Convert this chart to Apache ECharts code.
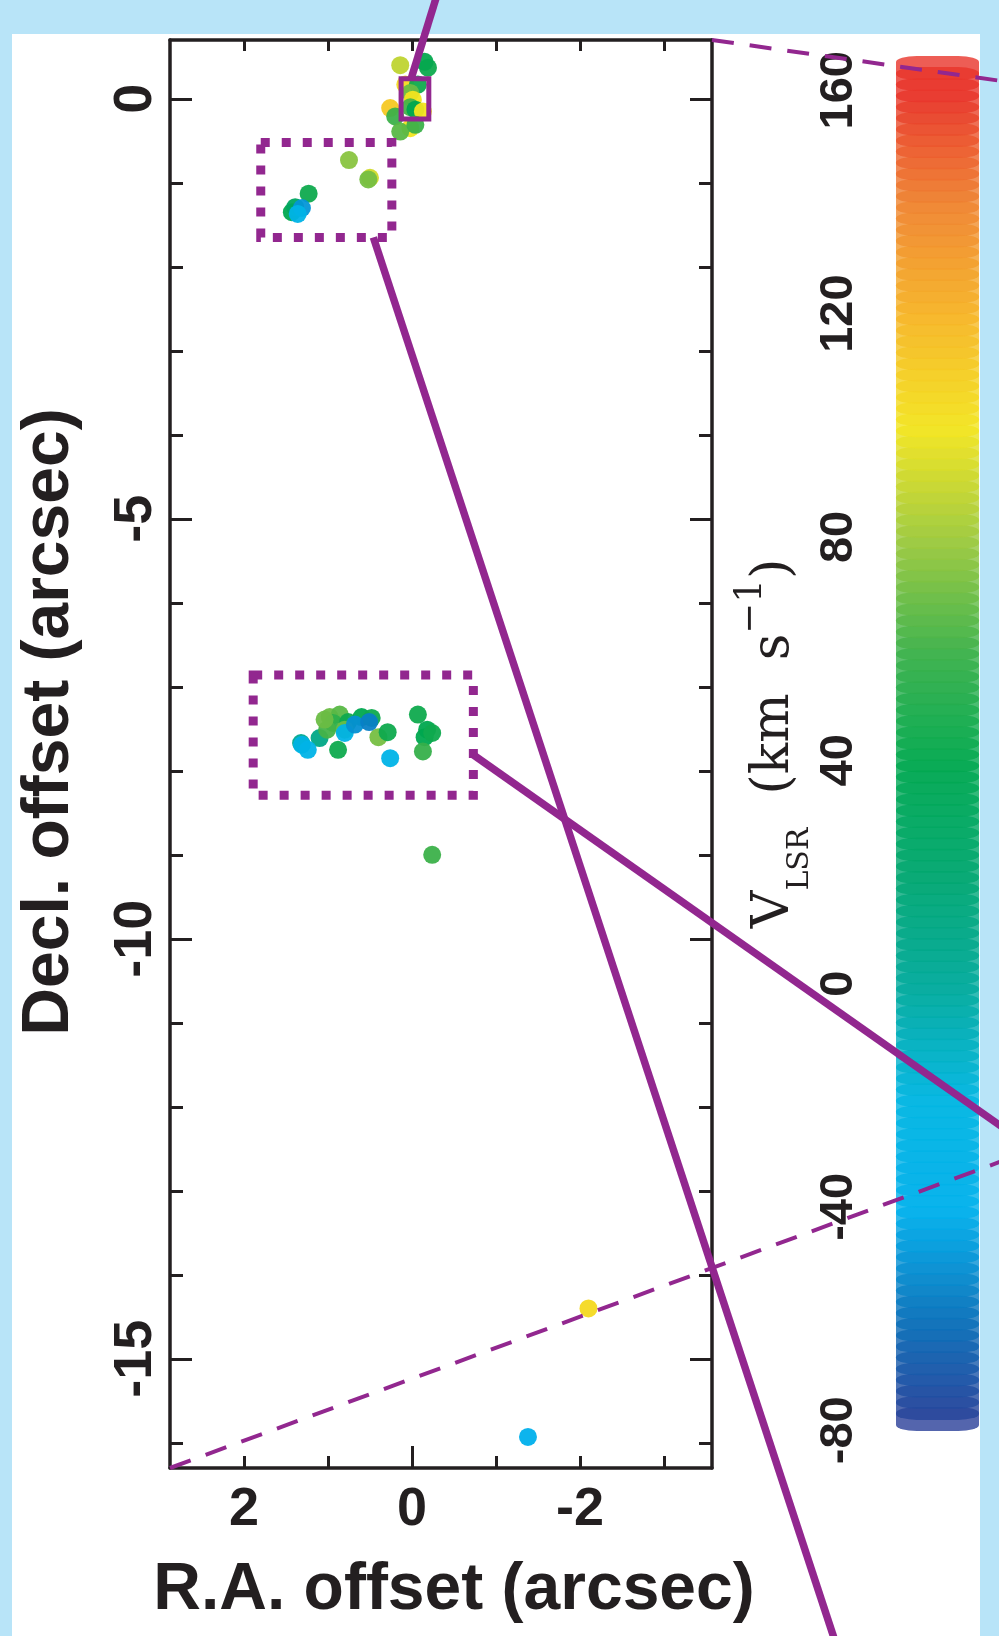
<!DOCTYPE html>
<html>
<head>
<meta charset="utf-8">
<script src="https://cdn.jsdelivr.net/npm/echarts@6/dist/echarts.min.js"></script>
<style>
  html, body { margin: 0; padding: 0; background: #b8e4f8; }
  #panel { position: absolute; left: 12px; top: 34px; width: 968px; height: 1602px; background: #ffffff; }
  #chart { position: absolute; left: 0; top: 0; width: 999px; height: 1636px; }
</style>
</head>
<body>
<div id="panel"></div>
<div id="chart"></div>
<script>
// Maser spots: R.A. offset (arcsec), Decl. offset (arcsec), V_LSR (km/s)
const raOffset = [
  0.14, -0.19, -0.15, 0.08, -0.07, 0.02, -0.01, 0.02, -0.04, -0.13, 0.26, 0.20, 0.02, 0.14, -0.04,
  0.75, 0.50, 0.52, 1.23, 1.43, 1.39, 1.31, 1.36,
  1.10, 0.88, 0.98, 0.86, 0.94, 1.01, 1.04, 0.76, 0.80, 0.60, 0.48, 0.40, 0.29,
  -0.07, -0.18, -0.15, -0.24, -0.13,
  1.32, 1.31, 1.24, 0.80, 0.68, 0.51, 0.26,
  -0.24, -2.10, -1.38
];
const declOffset = [
  0.40, 0.37, 0.44, 0.17, 0.17, 0.07, -0.01, -0.10, -0.13, -0.15, -0.11, -0.21, -0.35, -0.39, -0.31,
  -0.73, -0.94, -0.96, -1.13, -1.35, -1.29, -1.30, -1.37,
  -7.61, -7.75, -7.36, -7.33, -7.43, -7.51, -7.39, -7.42, -7.51, -7.36, -7.37, -7.60, -7.54,
  -7.33, -7.51, -7.60, -7.55, -7.77,
  -7.67, -7.69, -7.75, -7.55, -7.45, -7.42, -7.85,
  -9.00, -14.40, -15.93
];
const vlsr = [
  88, 45, 42, 105, 45, 70, 100, 62, 40, 100, 112, 60, 100, 66, 60,
  76, 92, 72, 45, 40, 30, -48, -30,
  10, 45, 70, 66, 55, 62, 70, 45, 70, 40, 45, 72, 45,
  45, 40, 40, 45, 58,
  5, -25, -30, -30, -50, -55, -30,
  60, 105, -40
];

// Axis ranges and ticks
const raRange = [-3.57, 2.88];
const declRange = [-16.3, 0.7];
const raTicks = [2, 1, 0, -1, -2, -3];
const raLabels = [2, 0, -2];
const raLongTicks = [0];
const declTicks = [0, -1, -2, -3, -4, -5, -6, -7, -8, -9, -10, -11, -12, -13, -14, -15, -16];
const declLabels = [0, -5, -10, -15];
const velLabels = [-80, -40, 0, 40, 80, 120, 160];
const velRange = [-80, 160];
const colorbarRange = [-80.5, 166.5];
const colorbarSteps = { from: -78, to: 164, step: 2 };

// Outlined regions (R.A. left, Decl. top, R.A. right, Decl. bottom)
const regionWest = [1.80, -0.52, 0.24, -1.65];
const regionSouth = [1.89, -6.86, -0.73, -8.29];
const regionCore = [0.13, 0.24, -0.20, -0.24];

// Rainbow colour scale, evenly spaced over velRange
const rainbow = ['#2c3a94', '#0a6fb9', '#00b0ec', '#00b5e2', '#00aa9c', '#00a670', '#00a84f',
                 '#3cb14a', '#9cc93d', '#f3e51f', '#f6b526', '#ef8530', '#e8342a'];

const FONT = '"Liberation Sans", Arial, Helvetica, sans-serif';
const NARROW = '"Liberation Sans Narrow", "Arial Narrow", "Liberation Sans", sans-serif';
const SERIF = '"DejaVu Serif", "Liberation Serif", serif';
const INK = '#231f20';
const PURPLE = '#92278f';

const spots = raOffset.map((x, i) => [x, declOffset[i], vlsr[i]]);
const barCells = [];
for (let v = colorbarSteps.from; v <= colorbarSteps.to; v += colorbarSteps.step) barCells.push([0.5, v, v]);

const chart = echarts.init(document.getElementById('chart'), null, { renderer: 'canvas' });

const tickFont = { fontSize: 54, fontWeight: 'bold', fontFamily: NARROW, color: INK };
const barFont = { fontSize: 47, fontWeight: 'bold', fontFamily: NARROW, color: INK };
const titleFont = { fontSize: 66, fontWeight: 'bold', fontFamily: FONT, color: INK };
const lineStyle = { color: INK, width: 3.5 };

function raAxis(extra) {
  return Object.assign({
    type: 'value', gridIndex: 0, min: raRange[0], max: raRange[1], inverse: true,
    splitLine: { show: false }, axisLine: { show: false, onZero: false },
    axisTick: { show: false }, axisLabel: { show: false }
  }, extra);
}
function declAxis(extra) {
  return Object.assign({
    type: 'value', gridIndex: 0, min: declRange[0], max: declRange[1],
    splitLine: { show: false }, axisLine: { show: false, onZero: false },
    axisTick: { show: false }, axisLabel: { show: false }
  }, extra);
}
function ticks(len, values) {
  return { show: true, inside: true, length: len, customValues: values, lineStyle: { color: INK, width: 3 } };
}

function boxArea(r, style) {
  return [{ xAxis: r[0], yAxis: r[1], itemStyle: style }, { xAxis: r[2], yAxis: r[3] }];
}
const dotted = { color: 'rgba(0,0,0,0)', borderColor: PURPLE, borderWidth: 9, borderType: [9, 12] };
const solid = { color: 'rgba(0,0,0,0)', borderColor: PURPLE, borderWidth: 5, borderType: 'solid' };

chart.setOption({
  animation: false,
  grid: [
    { left: 170, top: 40, width: 542, height: 1428 },
    { left: 896, top: 54, width: 83, height: 1379 }
  ],
  visualMap: {
    type: 'continuous', show: false, min: velRange[0], max: velRange[1],
    dimension: 2, seriesIndex: [0, 2], inRange: { color: rainbow }
  },
  xAxis: [
    raAxis({
      position: 'bottom',
      axisLine: { show: true, onZero: false, lineStyle: lineStyle },
      axisTick: ticks(12, raTicks),
      axisLabel: Object.assign({ show: true, customValues: raLabels, margin: 15 }, tickFont),
      name: 'R.A. offset (arcsec)', nameLocation: 'middle', nameGap: 90,
      nameTextStyle: Object.assign({ padding: [0, 0, 0, 26] }, titleFont)
    }),
    raAxis({ position: 'bottom', axisTick: ticks(22, raLongTicks) }),
    raAxis({
      position: 'top',
      axisLine: { show: true, onZero: false, lineStyle: lineStyle },
      axisTick: ticks(11, raTicks)
    }),
    { type: 'value', gridIndex: 1, min: 0, max: 1, show: false }
  ],
  yAxis: [
    declAxis({
      position: 'left',
      axisLine: { show: true, onZero: false, lineStyle: lineStyle },
      axisTick: ticks(22, declLabels),
      axisLabel: Object.assign({ show: true, customValues: declLabels, rotate: 90, margin: 7 }, tickFont),
      name: 'Decl. offset (arcsec)', nameLocation: 'middle', nameRotate: 90, nameGap: 87,
      nameTextStyle: Object.assign({ padding: [0, 0, 0, 64] }, titleFont)
    }),
    declAxis({ position: 'left', axisTick: ticks(13, declTicks) }),
    declAxis({
      position: 'right',
      axisLine: { show: true, onZero: false, lineStyle: lineStyle },
      axisTick: ticks(22, declLabels)
    }),
    declAxis({ position: 'right', axisTick: ticks(13, declTicks) }),
    {
      type: 'value', gridIndex: 1, position: 'left',
      min: colorbarRange[0], max: colorbarRange[1],
      splitLine: { show: false }, axisLine: { show: false, onZero: false }, axisTick: { show: false },
      axisLabel: Object.assign({ show: true, customValues: velLabels, rotate: 90, margin: 33 }, barFont),
      name: '{v|V}{sub|LSR}{v|  (km  s}{sup|−1}{v|)}',
      nameLocation: 'middle', nameRotate: 90, nameGap: 80,
      nameTextStyle: {
        color: INK,
        rich: {
          v: { fontSize: 52, fontFamily: SERIF, color: INK, lineHeight: 82, verticalAlign: 'middle' },
          sub: { fontSize: 30, fontFamily: SERIF, color: INK, lineHeight: 40, verticalAlign: 'bottom' },
          sup: { fontSize: 37, fontFamily: SERIF, color: INK, lineHeight: 37, verticalAlign: 'top' }
        }
      }
    }
  ],
  series: [
    {
      name: 'spots', type: 'scatter', xAxisIndex: 0, yAxisIndex: 0,
      symbol: 'circle', symbolSize: 18, data: spots, silent: true, z: 2,
      itemStyle: { opacity: 0.95 }
    },
    {
      name: 'regions', type: 'scatter', xAxisIndex: 0, yAxisIndex: 0, data: [], z: 4,
      markArea: {
        silent: true, z: 4,
        data: [boxArea(regionWest, dotted), boxArea(regionSouth, dotted), boxArea(regionCore, solid)]
      }
    },
    {
      name: 'colorbar', type: 'scatter', xAxisIndex: 3, yAxisIndex: 4,
      symbol: 'roundRect', symbolSize: [83, 24], data: barCells, silent: true
    }
  ]
});

// Connector lines leading to the enlarged panels
const px = p => chart.convertToPixel({ xAxisIndex: 0, yAxisIndex: 0 }, p);
const coreTop = px([0.01, regionCore[1]]);
const westBottom = px([0.46, regionWest[3]]);
const southRight = px([regionSouth[2], -7.81]);
const cornerTR = px([raRange[0], declRange[1]]);
const cornerBL = px([raRange[1], declRange[0]]);
function seg(a, b, w, dash) {
  return {
    type: 'line', z: 100, silent: true,
    shape: { x1: a[0], y1: a[1], x2: b[0], y2: b[1] },
    style: { stroke: PURPLE, lineWidth: w, lineDash: dash || null }
  };
}
chart.setOption({
  graphic: [
    seg(coreTop, [437, -5], 7.5),
    seg(westBottom, [835, 1641], 7.5),
    seg(southRight, [1005, 1129], 7.5),
    seg(cornerTR, [1005, 81.5], 4, [22, 16]),
    seg(cornerBL, [1005, 1160], 4, [22, 16])
  ]
});
</script>
</body>
</html>
